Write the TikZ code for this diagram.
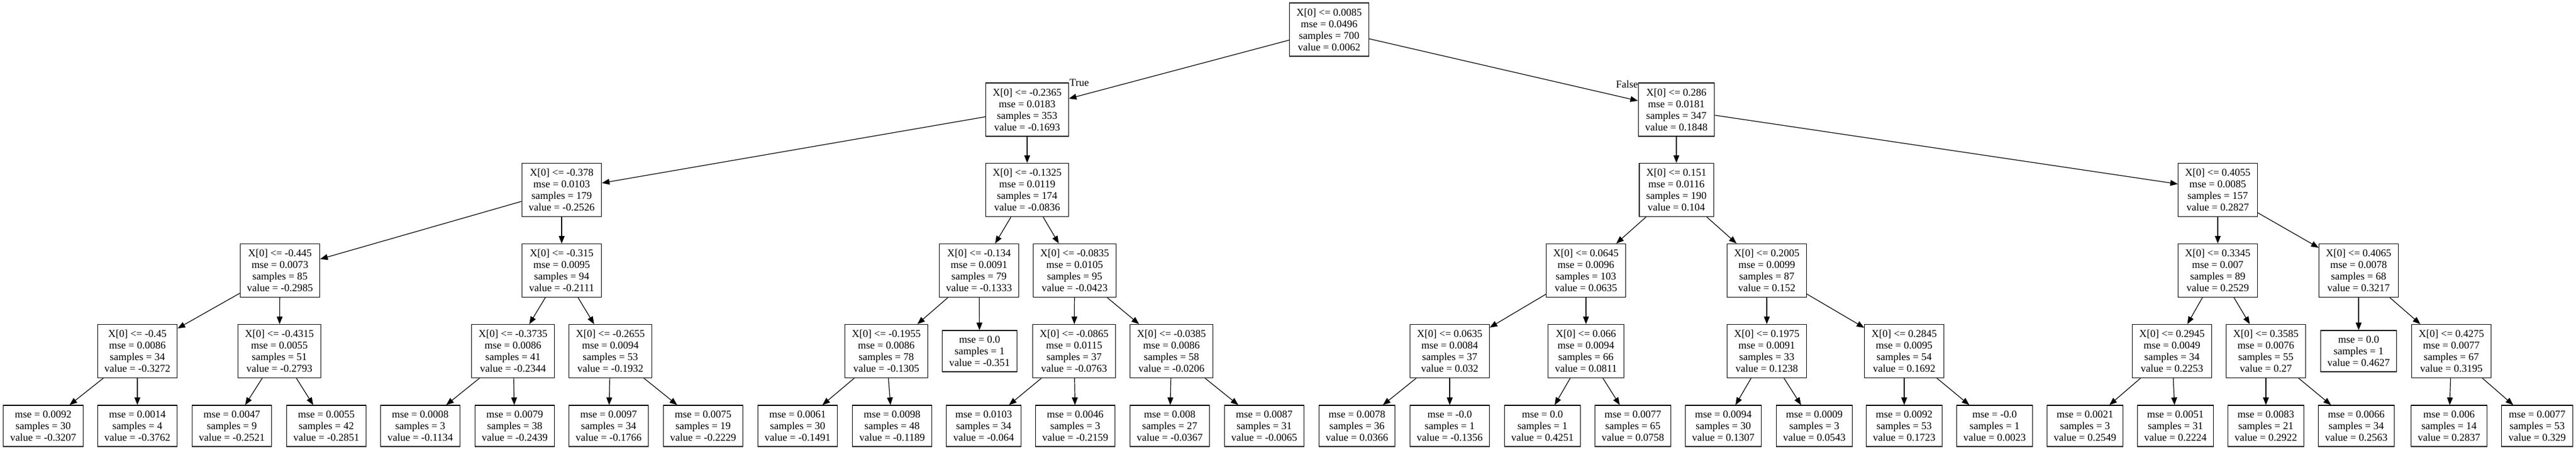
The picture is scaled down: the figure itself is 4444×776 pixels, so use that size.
\documentclass[tikz,border=0pt]{standalone}
\usepackage{fontspec}
\setmainfont{Liberation Serif}
\usetikzlibrary{arrows.meta}

\begin{document}
\begin{tikzpicture}[x=1pt, y=-1pt,
        splitnode/.style={draw, line width=1.2pt, align=center, inner xsep=12pt, inner ysep=0pt, minimum height=92pt, font=\fontsize{18}{20}\selectfont},
        leafnode/.style={splitnode, minimum height=71pt},
        branch/.style={-{Triangle[length=13pt, width=10pt]}, line width=1.2pt},
        edgelabel/.style={inner sep=0pt, font=\fontsize{18}{20}\selectfont}]
        \useasboundingbox (0, 0) rectangle (4444, 776);

        \node[splitnode] (root) at (2293, 51) {X[0] <= 0.0085\\mse = 0.0496\\samples = 700\\value = 0.0062};

        \node[splitnode] (t) at (1772, 189) {X[0] <= -0.2365\\mse = 0.0183\\samples = 353\\value = -0.1693};
        \node[splitnode] (f) at (2892, 189) {X[0] <= 0.286\\mse = 0.0181\\samples = 347\\value = 0.1848};

        \node[splitnode] (tt) at (969, 327.5) {X[0] <= -0.378\\mse = 0.0103\\samples = 179\\value = -0.2526};
        \node[splitnode] (tf) at (1772, 327.5) {X[0] <= -0.1325\\mse = 0.0119\\samples = 174\\value = -0.0836};
        \node[splitnode] (ft) at (2892, 327.5) {X[0] <= 0.151\\mse = 0.0116\\samples = 190\\value = 0.104};
        \node[splitnode] (ff) at (3826, 327.5) {X[0] <= 0.4055\\mse = 0.0085\\samples = 157\\value = 0.2827};

        \node[splitnode] (ttt) at (483, 466.5) {X[0] <= -0.445\\mse = 0.0073\\samples = 85\\value = -0.2985};
        \node[splitnode] (ttf) at (969, 466.5) {X[0] <= -0.315\\mse = 0.0095\\samples = 94\\value = -0.2111};
        \node[splitnode] (tft) at (1689, 466.5) {X[0] <= -0.134\\mse = 0.0091\\samples = 79\\value = -0.1333};
        \node[splitnode] (tff) at (1854, 466.5) {X[0] <= -0.0835\\mse = 0.0105\\samples = 95\\value = -0.0423};
        \node[splitnode] (ftt) at (2736, 466.5) {X[0] <= 0.0645\\mse = 0.0096\\samples = 103\\value = 0.0635};
        \node[splitnode] (ftf) at (3048, 466.5) {X[0] <= 0.2005\\mse = 0.0099\\samples = 87\\value = 0.152};
        \node[splitnode] (fft) at (3826, 466.5) {X[0] <= 0.3345\\mse = 0.007\\samples = 89\\value = 0.2529};
        \node[splitnode] (fff) at (4069, 466.5) {X[0] <= 0.4065\\mse = 0.0078\\samples = 68\\value = 0.3217};

        \node[splitnode] (tttt) at (237, 605.5) {X[0] <= -0.45\\mse = 0.0086\\samples = 34\\value = -0.3272};
        \node[splitnode] (tttf) at (482, 605.5) {X[0] <= -0.4315\\mse = 0.0055\\samples = 51\\value = -0.2793};
        \node[splitnode] (ttft) at (885, 605.5) {X[0] <= -0.3735\\mse = 0.0086\\samples = 41\\value = -0.2344};
        \node[splitnode] (ttff) at (1053, 605.5) {X[0] <= -0.2655\\mse = 0.0094\\samples = 53\\value = -0.1932};
        \node[splitnode] (tftt) at (1529, 605.5) {X[0] <= -0.1955\\mse = 0.0086\\samples = 78\\value = -0.1305};
        \node[leafnode] (tftf) at (1690, 605.5) {mse = 0.0\\samples = 1\\value = -0.351};
        \node[splitnode] (tfft) at (1853, 605.5) {X[0] <= -0.0865\\mse = 0.0115\\samples = 37\\value = -0.0763};
        \node[splitnode] (tfff) at (2021, 605.5) {X[0] <= -0.0385\\mse = 0.0086\\samples = 58\\value = -0.0206};
        \node[splitnode] (fttt) at (2501, 605.5) {X[0] <= 0.0635\\mse = 0.0084\\samples = 37\\value = 0.032};
        \node[splitnode] (fttf) at (2736, 605.5) {X[0] <= 0.066\\mse = 0.0094\\samples = 66\\value = 0.0811};
        \node[splitnode] (ftft) at (3048, 605.5) {X[0] <= 0.1975\\mse = 0.0091\\samples = 33\\value = 0.1238};
        \node[splitnode] (ftff) at (3285, 605.5) {X[0] <= 0.2845\\mse = 0.0095\\samples = 54\\value = 0.1692};
        \node[splitnode] (fftt) at (3747, 605.5) {X[0] <= 0.2945\\mse = 0.0049\\samples = 34\\value = 0.2253};
        \node[splitnode] (fftf) at (3909, 605.5) {X[0] <= 0.3585\\mse = 0.0076\\samples = 55\\value = 0.27};
        \node[leafnode] (ffft) at (4069, 605.5) {mse = 0.0\\samples = 1\\value = 0.4627};
        \node[splitnode] (ffff) at (4229, 605.5) {X[0] <= 0.4275\\mse = 0.0077\\samples = 67\\value = 0.3195};

        \node[leafnode] (ttttt) at (74.5, 734.5) {mse = 0.0092\\samples = 30\\value = -0.3207};
        \node[leafnode] (ttttf) at (237, 734.5) {mse = 0.0014\\samples = 4\\value = -0.3762};
        \node[leafnode] (tttft) at (400, 734.5) {mse = 0.0047\\samples = 9\\value = -0.2521};
        \node[leafnode] (tttff) at (563, 734.5) {mse = 0.0055\\samples = 42\\value = -0.2851};
        \node[leafnode] (ttftt) at (725, 734.5) {mse = 0.0008\\samples = 3\\value = -0.1134};
        \node[leafnode] (ttftf) at (888, 734.5) {mse = 0.0079\\samples = 38\\value = -0.2439};
        \node[leafnode] (ttfft) at (1050, 734.5) {mse = 0.0097\\samples = 34\\value = -0.1766};
        \node[leafnode] (ttfff) at (1213, 734.5) {mse = 0.0075\\samples = 19\\value = -0.2229};
        \node[leafnode] (tfttt) at (1376, 734.5) {mse = 0.0061\\samples = 30\\value = -0.1491};
        \node[leafnode] (tfttf) at (1539, 734.5) {mse = 0.0098\\samples = 48\\value = -0.1189};
        \node[leafnode] (tfftt) at (1697, 734.5) {mse = 0.0103\\samples = 34\\value = -0.064};
        \node[leafnode] (tfftf) at (1855, 734.5) {mse = 0.0046\\samples = 3\\value = -0.2159};
        \node[leafnode] (tffft) at (2018, 734.5) {mse = 0.008\\samples = 27\\value = -0.0367};
        \node[leafnode] (tffff) at (2181, 734.5) {mse = 0.0087\\samples = 31\\value = -0.0065};
        \node[leafnode] (ftttt) at (2341, 734.5) {mse = 0.0078\\samples = 36\\value = 0.0366};
        \node[leafnode] (ftttf) at (2501, 734.5) {mse = -0.0\\samples = 1\\value = -0.1356};
        \node[leafnode] (fttft) at (2661, 734.5) {mse = 0.0\\samples = 1\\value = 0.4251};
        \node[leafnode] (fttff) at (2817, 734.5) {mse = 0.0077\\samples = 65\\value = 0.0758};
        \node[leafnode] (ftftt) at (2973, 734.5) {mse = 0.0094\\samples = 30\\value = 0.1307};
        \node[leafnode] (ftftf) at (3130, 734.5) {mse = 0.0009\\samples = 3\\value = 0.0543};
        \node[leafnode] (ftfft) at (3285, 734.5) {mse = 0.0092\\samples = 53\\value = 0.1723};
        \node[leafnode] (ftfff) at (3441, 734.5) {mse = -0.0\\samples = 1\\value = 0.0023};
        \node[leafnode] (ffttt) at (3597, 734.5) {mse = 0.0021\\samples = 3\\value = 0.2549};
        \node[leafnode] (ffttf) at (3753, 734.5) {mse = 0.0051\\samples = 31\\value = 0.2224};
        \node[leafnode] (fftft) at (3909, 734.5) {mse = 0.0083\\samples = 21\\value = 0.2922};
        \node[leafnode] (fftff) at (4065, 734.5) {mse = 0.0066\\samples = 34\\value = 0.2563};
        \node[leafnode] (fffft) at (4225, 734.5) {mse = 0.006\\samples = 14\\value = 0.2837};
        \node[leafnode] (fffff) at (4377, 734.5) {mse = 0.0077\\samples = 53\\value = 0.329};

        \node[edgelabel, anchor=base west] (truelabel) at (1845, 148) {True};
        \node[edgelabel, anchor=base east] (falselabel) at (2826, 151) {False};

        \draw[branch] (root) -- (t);
        \draw[branch] (root) -- (f);

        \draw[branch] (t) -- (tt);
        \draw[branch] (t) -- (tf);
        \draw[branch] (f) -- (ft);
        \draw[branch] (f) -- (ff);

        \draw[branch] (tt) -- (ttt);
        \draw[branch] (tt) -- (ttf);
        \draw[branch] (tf) -- (tft);
        \draw[branch] (tf) -- (tff);
        \draw[branch] (ft) -- (ftt);
        \draw[branch] (ft) -- (ftf);
        \draw[branch] (ff) -- (fft);
        \draw[branch] (ff) -- (fff);

        \draw[branch] (ttt) -- (tttt);
        \draw[branch] (ttt) -- (tttf);
        \draw[branch] (ttf) -- (ttft);
        \draw[branch] (ttf) -- (ttff);
        \draw[branch] (tft) -- (tftt);
        \draw[branch] (tft) -- (tftf);
        \draw[branch] (tff) -- (tfft);
        \draw[branch] (tff) -- (tfff);
        \draw[branch] (ftt) -- (fttt);
        \draw[branch] (ftt) -- (fttf);
        \draw[branch] (ftf) -- (ftft);
        \draw[branch] (ftf) -- (ftff);
        \draw[branch] (fft) -- (fftt);
        \draw[branch] (fft) -- (fftf);
        \draw[branch] (fff) -- (ffft);
        \draw[branch] (fff) -- (ffff);

        \draw[branch] (tttt) -- (ttttt);
        \draw[branch] (tttt) -- (ttttf);
        \draw[branch] (tttf) -- (tttft);
        \draw[branch] (tttf) -- (tttff);
        \draw[branch] (ttft) -- (ttftt);
        \draw[branch] (ttft) -- (ttftf);
        \draw[branch] (ttff) -- (ttfft);
        \draw[branch] (ttff) -- (ttfff);
        \draw[branch] (tftt) -- (tfttt);
        \draw[branch] (tftt) -- (tfttf);
        \draw[branch] (tfft) -- (tfftt);
        \draw[branch] (tfft) -- (tfftf);
        \draw[branch] (tfff) -- (tffft);
        \draw[branch] (tfff) -- (tffff);
        \draw[branch] (fttt) -- (ftttt);
        \draw[branch] (fttt) -- (ftttf);
        \draw[branch] (fttf) -- (fttft);
        \draw[branch] (fttf) -- (fttff);
        \draw[branch] (ftft) -- (ftftt);
        \draw[branch] (ftft) -- (ftftf);
        \draw[branch] (ftff) -- (ftfft);
        \draw[branch] (ftff) -- (ftfff);
        \draw[branch] (fftt) -- (ffttt);
        \draw[branch] (fftt) -- (ffttf);
        \draw[branch] (fftf) -- (fftft);
        \draw[branch] (fftf) -- (fftff);
        \draw[branch] (ffff) -- (fffft);
        \draw[branch] (ffff) -- (fffff);
    \end{tikzpicture}
\end{document}
